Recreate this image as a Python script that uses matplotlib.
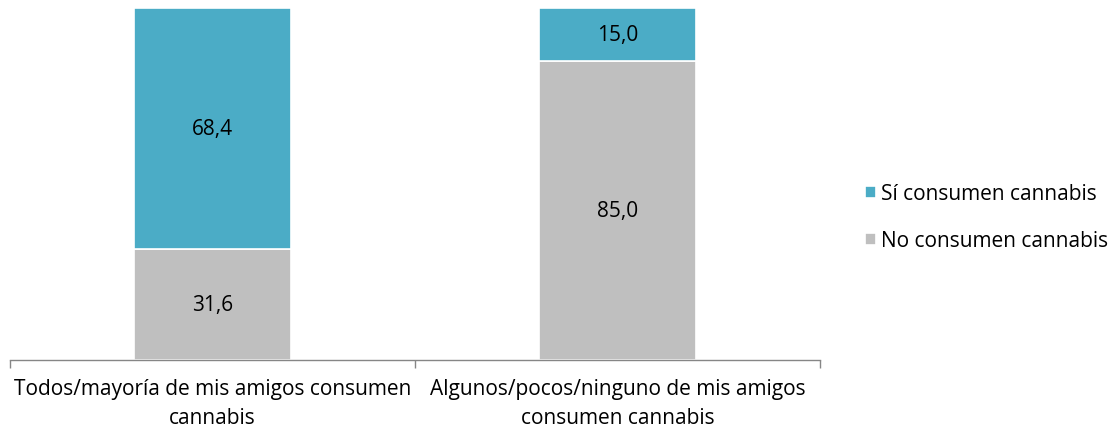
import matplotlib.pyplot as plt

# Data
categories = ['Todos/mayoría de mis amigos consumen\ncannabis',
              'Algunos/pocos/ninguno de mis amigos\nconsumen cannabis']
no_consumen = [31.6, 85.0]
si_consumen = [68.4, 15.0]

color_si = '#4BACC6'
color_no = '#BFBFBF'

plt.rcParams['font.family'] = ['Open Sans', 'DejaVu Sans']
fs = 15

fig = plt.figure(figsize=(11.09, 4.35), dpi=100)
ax = fig.add_axes([10 / 1109, 74 / 435, 810 / 1109, 352 / 435])

x = list(range(len(categories)))
width = 0.39
b1 = ax.bar(x, no_consumen, width, color=color_no, edgecolor='white', linewidth=1.2,
            label='No consumen cannabis')
b2 = ax.bar(x, si_consumen, width, bottom=no_consumen, color=color_si, edgecolor='white',
            linewidth=1.2, label='Sí consumen cannabis')

for bars, vals, bottoms in [(b1, no_consumen, [0, 0]), (b2, si_consumen, no_consumen)]:
    for rect, v, b in zip(bars, vals, bottoms):
        ax.text(rect.get_x() + rect.get_width() / 2, b + v / 2,
                f'{v:.1f}'.replace('.', ','), ha='center', va='center', fontsize=fs,
                color='black')

ax.set_xlim(-0.5, 1.5)
ax.set_ylim(0, 100)
ax.set_yticks([])
for s in ['top', 'right', 'left']:
    ax.spines[s].set_visible(False)
ax.spines['bottom'].set_color('#868686')
ax.spines['bottom'].set_linewidth(1.0)

ax.set_xticks([-0.5, 0.5, 1.5])
ax.set_xticklabels([])
ax.tick_params(axis='x', which='major', length=6, color='#868686', width=1.0)
ax.set_xticks(x, minor=True)
ax.set_xticklabels(categories, minor=True, fontsize=fs, linespacing=1.5)
ax.tick_params(axis='x', which='minor', length=0, pad=13)

handles = [b2, b1]
ax.legend(handles, [h.get_label() for h in handles], loc='center left',
          bbox_to_anchor=(855 / 810, 0.405), bbox_transform=ax.transAxes,
          frameon=False, fontsize=fs, handlelength=0.55, handleheight=0.55,
          handletextpad=0.2, labelspacing=1.25, borderaxespad=0, borderpad=0)

fig.savefig('out.png', dpi=100)
